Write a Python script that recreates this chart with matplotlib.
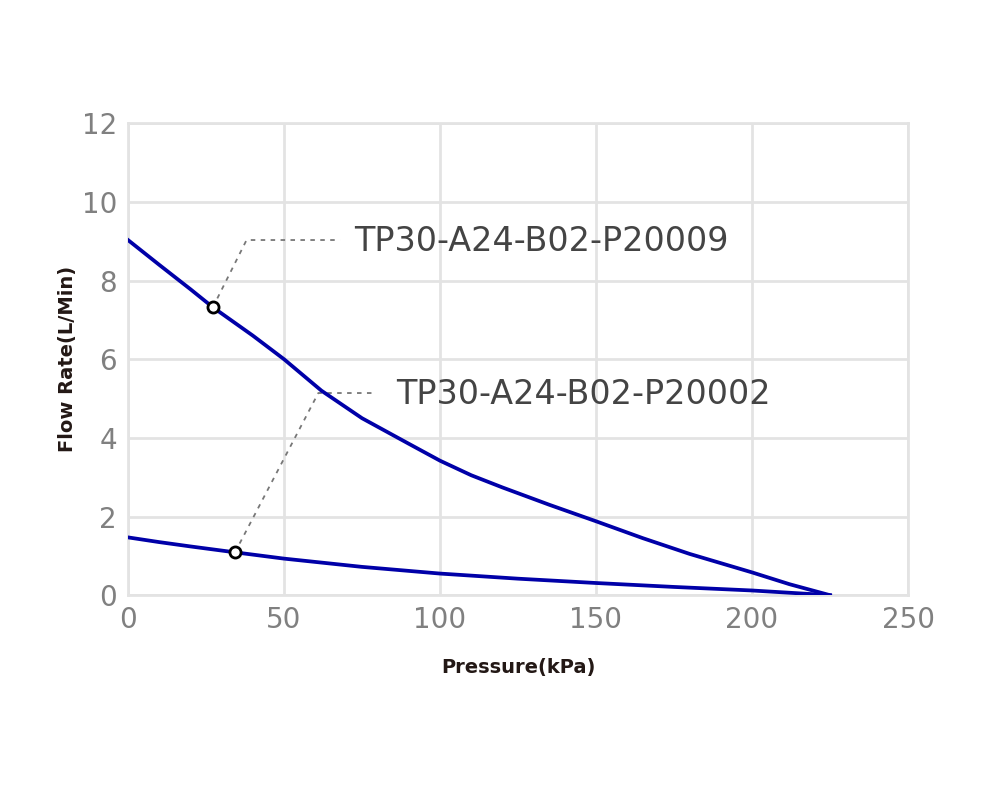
import numpy as np
from matplotlib import pyplot as plt

plt.rcParams['font.family'] = ['DejaVu Sans']

# upper curve: TP30-A24-B02-P20009
p_hi = [0, 10, 20, 27.2, 40, 50, 62, 75, 90, 100, 110, 120, 135, 150, 165, 180, 200, 212, 225]
q_hi = [9.03, 8.4, 7.78, 7.32, 6.6, 6.0, 5.2, 4.5, 3.85, 3.42, 3.05, 2.74, 2.3, 1.88, 1.45, 1.05, 0.58, 0.28, 0.0]
# lower curve: TP30-A24-B02-P20002
p_lo = [0, 10, 20, 34.3, 50, 75, 100, 125, 150, 175, 200, 225]
q_lo = [1.47, 1.35, 1.24, 1.09, 0.93, 0.72, 0.55, 0.42, 0.31, 0.21, 0.12, 0.0]

labels = ['TP30-A24-B02-P20009', 'TP30-A24-B02-P20002']
marks = [(27.2, 7.32), (34.3, 1.09)]
elbows = [(38, 9.03), (61, 5.14)]
line_ends = [68, 79]
text_x = [72.5, 86]

fig = plt.figure(figsize=(10, 8), dpi=100)
ax = fig.add_axes([0.128, 0.256, 0.78, 0.59])

ax.plot(p_hi, q_hi, color='#0000a8', lw=2.7, zorder=3)
ax.plot(p_lo, q_lo, color='#0000a8', lw=2.7, zorder=3)

for (mx, my), (ex, ey), le, tx, lab in zip(marks, elbows, line_ends, text_x, labels):
    ax.plot([mx, ex, le], [my, ey, ey], ls=(0, (2.5, 3)), color='#777777', lw=1.3, zorder=2)
    ax.plot(mx, my, 'o', ms=8, mfc='white', mec='black', mew=2, zorder=4)
    ax.text(tx, ey - 0.05, lab, fontsize=24, color='#444444', va='center', ha='left')

ax.set_xlim(0, 250)
ax.set_ylim(0, 12)
ax.set_xticks(np.arange(0, 251, 50))
ax.set_yticks(np.arange(0, 13, 2))
ax.grid(color='#e3e3e3', lw=2)
for s in ax.spines.values():
    s.set_color('#e3e3e3')
    s.set_linewidth(2)
ax.tick_params(length=0, labelsize=20, labelcolor='#808080', pad=8)
ax.set_axisbelow(True)

ax.set_xlabel('Pressure(kPa)', fontsize=14, fontweight='bold', color='#231815', labelpad=17)
ax.set_ylabel('Flow Rate(L/Min)', fontsize=14, fontweight='bold', color='#231815', labelpad=3)

fig.savefig('out.png', dpi=100)
